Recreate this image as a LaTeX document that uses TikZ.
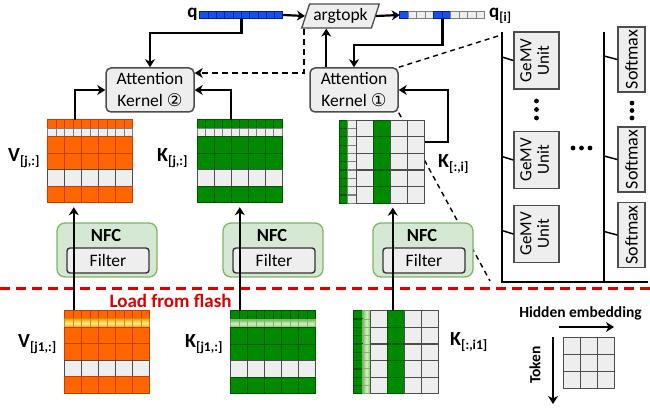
\documentclass[tikz,border=0pt]{standalone}
\usepackage{fontspec}
\setmainfont{Carlito}
\newfontfamily\circfont{DejaVu Sans}
\usepackage{tikz}
\usetikzlibrary{arrows.meta, calc, positioning, shapes.geometric}
\definecolor{cell-grey}{RGB}{238,238,238}
\definecolor{cell-edge}{RGB}{77,77,77}
\definecolor{V-orange}{RGB}{255,102,0}
\definecolor{V-orange-dark}{RGB}{200,60,0}
\definecolor{K-green}{RGB}{0,138,0}
\definecolor{K-green-dark}{RGB}{0,85,0}
\definecolor{q-blue}{RGB}{20,80,235}
\definecolor{q-blue-dark}{RGB}{0,30,160}
\definecolor{NFC-green}{RGB}{213,232,212}
\definecolor{NFC-edge}{RGB}{130,179,102}
\definecolor{flash-red}{RGB}{220,0,0}
\definecolor{gold-dark}{RGB}{235,170,0}
\definecolor{gold-light}{RGB}{255,232,150}
\definecolor{lgreen-dark}{RGB}{110,185,90}
\definecolor{lgreen-light}{RGB}{215,240,200}
\newcommand{\matlabel}[2]{{\fontsize{20}{22}\selectfont\bfseries #1}{\fontsize{13.5}{15}\selectfont\bfseries\raisebox{-4pt}{#2}}}
\tikzset{%
    edge/.style={%
        -{Stealth[length=8pt, width=10pt, inset=2.5pt]},
        line width=2.2pt,
    },
    dashededge/.style={%
        edge,
        dash pattern=on 6pt off 4pt,
    },
    zoomline/.style={%
        line width=1.4pt,
        dash pattern=on 5pt off 4pt,
    },
    flashline/.style={%
        flash-red,
        line width=3pt,
        dash pattern=on 10pt off 6pt,
    },
    kernel/.style={%
        rectangle,
        rounded corners=5pt,
        fill=cell-grey,
        draw=cell-edge, line width=1.5pt,
        minimum width=88pt,
        minimum height=44pt,
        align=center,
        font=\fontsize{17.5}{22}\selectfont,
    },
    argbox/.style={%
        trapezium,
        trapezium left angle=72,
        trapezium right angle=108,
        fill=cell-grey,
        draw=cell-edge, line width=1.3pt,
        minimum height=24pt,
        inner xsep=1pt,
        font=\fontsize{17.5}{20}\selectfont,
    },
    vec/.style={%
        rectangle,
        minimum width=83pt,
        minimum height=7pt,
        inner sep=0pt,
    },
    mat/.style={%
        rectangle,
        minimum width=85pt,
        minimum height=83pt,
        inner sep=0pt,
    },
    qcell/.style={fill=q-blue, draw=q-blue-dark, line width=0.8pt},
    qwcell/.style={fill=cell-grey, draw=gray, line width=0.8pt},
    ocell/.style={fill=V-orange, draw=V-orange-dark, line width=1.2pt},
    gcell/.style={fill=K-green, draw=K-green-dark, line width=1.2pt},
    wcell/.style={fill=cell-grey, draw=cell-edge, line width=1.2pt},
    twcell/.style={fill=cell-grey, draw=gray, line width=1.2pt},
    ycell/.style={%
        top color=gold-dark, bottom color=gold-dark, middle color=gold-light,
        draw=gold-dark!85!black, line width=1pt,
    },
    lgrow/.style={%
        top color=lgreen-dark, bottom color=lgreen-dark, middle color=lgreen-light,
        draw=NFC-edge, line width=1pt,
    },
    lgcol/.style={%
        left color=lgreen-dark, right color=lgreen-dark, middle color=lgreen-light,
        draw=NFC-edge, line width=1pt,
    },
    nfc/.style={%
        rectangle,
        rounded corners=8pt,
        fill=NFC-green,
        draw=NFC-edge, line width=1.3pt,
        minimum width=100pt,
        minimum height=54pt,
    },
    nfctext/.style={%
        font=\fontsize{18.5}{20}\selectfont\bfseries,
        inner sep=0pt,
    },
    filterbox/.style={%
        rectangle,
        rounded corners=3pt,
        fill=cell-grey,
        draw=black!80, line width=1.4pt,
        minimum width=82pt,
        minimum height=25pt,
        font=\fontsize{17.5}{20}\selectfont,
    },
    unitbox/.style={%
        rectangle,
        fill=cell-grey,
        draw=cell-edge, line width=1.5pt,
        inner sep=0pt,
        font=\fontsize{17}{17.5}\selectfont,
    },
    bus/.style={line width=1.8pt},
    tick/.style={line width=1.5pt},
    legendtext/.style={font=\fontsize{15.5}{17}\selectfont\bfseries},
}

\begin{document}
\begin{tikzpicture}[x=1pt, y=-1pt]
  \useasboundingbox (0,0) rectangle (650,411);

  % query and selected query entries
  \node[vec] (qbar) at (241.5,15) {};
  \foreach \c in {0,...,9}
    \draw[qcell] ($(qbar.north west)+(8.3*\c,0)$) rectangle ++(8.3,7);
  \node[font=\fontsize{19}{20}\selectfont\bfseries, anchor=east, inner sep=1pt] (qlab) at ($(qbar.west)+(-1,-1)$) {q};

  \node[argbox] (argtopk) at (340.5,16) {argtopk};

  \node[vec, minimum width=85pt] (qibar) at (442.5,15) {};
  \foreach \s [count=\c from 0] in {qcell,qwcell,qwcell,qwcell,qcell,qcell,qwcell,qwcell,qwcell,qwcell}
    \draw[\s] ($(qibar.north west)+(8.5*\c,0)$) rectangle ++(8.5,7);
  \node[anchor=base west, inner sep=0pt] (qilab) at (489,18)
    {{\fontsize{19}{20}\selectfont\bfseries q}{\fontsize{13}{14}\selectfont\bfseries\raisebox{-4pt}{[i]}}};

  % attention kernels
  \node[kernel] (ak2) at (150,90) {Attention\\Kernel {\circfont ②}};
  \node[kernel] (ak1) at (354,90) {Attention\\Kernel {\circfont ①}};

  % compute array
  \coordinate (bus1top) at (502,32);
  \coordinate (bus1bot) at (502,282);
  \coordinate (bus2top) at (604,32);
  \coordinate (bus2bot) at (604,282);
  \coordinate (panelend) at (648,282);
  \draw[bus] (bus1top) -- (bus1bot) -- (panelend);
  \draw[bus] (bus2top) -- (bus2bot);

  \draw[zoomline] (ak1.north east) -- ($(bus1top)+(-4,4)$);
  \draw[zoomline] (ak1.south east) -- ($(bus1bot)+(-12,-1)$);

  \foreach \n/\y in {1/60.5,2/160,3/234} {
    \node[unitbox, minimum width=45pt, minimum height=57pt] (gemv\n) at (536.5,\y)
      {\rotatebox{90}{\begin{tabular}{@{}c@{}}GeMV\\Unit\end{tabular}}};
    \draw[tick] (gemv\n.west) -- ($(gemv\n.west -| bus1top)+(0,-3.5)$);
  }
  \foreach \n/\y in {1/59.5,2/159.5,3/235} {
    \node[unitbox, minimum width=27pt, minimum height=65pt, font=\fontsize{18}{19}\selectfont] (sm\n) at (631.5,\y)
      {\rotatebox{90}{Softmax}};
    \draw[tick] (sm\n.west) -- ($(sm\n.west -| bus2top)+(0,-3.5)$);
  }
  \foreach \y in {101,109.5,118} \fill (536.5,\y) circle (2.4pt);
  \foreach \y in {103,110.5,118} \fill (632,\y) circle (2.4pt);
  \foreach \x in {573,581.5,590} \fill (\x,148) circle (2.4pt);

  % flash boundary
  \draw[flashline] (0,289) -- (650,289);
  \node[anchor=west, text=flash-red, font=\fontsize{19}{22}\selectfont\bfseries] (flashlab) at (106,301) {Load from flash};

  % blocks in DRAM
  \node[mat] (Vj) at (90.5,161.5) {};
  \begin{scope}[shift={(Vj.north west)}]
    \foreach \c in {0,...,9} {
      \draw[ocell] (8.5*\c,0) rectangle ++(8.5,8.5);
      \draw[twcell] (8.5*\c,8.5) rectangle ++(8.5,8.5);
    }
    \foreach \s [count=\r from 0] in {ocell,ocell,wcell,ocell}
      \foreach \c in {0,...,4}
        \draw[\s] (17*\c,17+16.5*\r) rectangle ++(17,16.5);
  \end{scope}
  \node[anchor=base west, inner sep=0pt] (Vjlab) at (8,162) {\matlabel{V}{[j,:]}};

  \node[mat] (Kj) at (240,161.5) {};
  \begin{scope}[shift={(Kj.north west)}]
    \foreach \c in {0,...,9} {
      \draw[gcell] (8.5*\c,0) rectangle ++(8.5,8.5);
      \draw[twcell] (8.5*\c,8.5) rectangle ++(8.5,8.5);
    }
    \foreach \s [count=\r from 0] in {gcell,gcell,wcell,gcell}
      \foreach \c in {0,...,4}
        \draw[\s] (17*\c,17+16.5*\r) rectangle ++(17,16.5);
  \end{scope}
  \node[anchor=base west, inner sep=0pt] (Kjlab) at (157,162) {\matlabel{K}{[j,:]}};

  \node[mat] (Ki) at (382,162) {};
  \begin{scope}[shift={(Ki.north west)}]
    \foreach \r in {0,...,9} {
      \draw[gcell] (0,8.3*\r) rectangle ++(8.5,8.3);
      \draw[twcell] (8.5,8.3*\r) rectangle ++(8.5,8.3);
    }
    \foreach \s [count=\c from 0] in {wcell,gcell,wcell,wcell}
      \foreach \r in {0,...,4}
        \draw[\s] (17+17*\c,16.6*\r) rectangle ++(17,16.6);
  \end{scope}
  \node[anchor=base west, inner sep=0pt] (Kilab) at (438,168) {\matlabel{K}{[:,i]}};

  % blocks in flash
  \node[mat] (Vj1) at (107.5,352) {};
  \begin{scope}[shift={(Vj1.north west)}]
    \foreach \c in {0,...,9} {
      \draw[ocell] (8.5*\c,0) rectangle ++(8.5,8.5);
      \draw[ycell] (8.5*\c,8.5) rectangle ++(8.5,8.5);
    }
    \foreach \s [count=\r from 0] in {ocell,ocell,wcell,ocell}
      \foreach \c in {0,...,4}
        \draw[\s] (17*\c,17+16.5*\r) rectangle ++(17,16.5);
  \end{scope}
  \node[anchor=base west, inner sep=0pt] (Vj1lab) at (18,347) {\matlabel{V}{[j1,:]}};

  \node[mat] (Kj1) at (273.5,352.5) {};
  \begin{scope}[shift={(Kj1.north west)}]
    \foreach \c in {0,...,9} {
      \draw[gcell] (8.5*\c,0) rectangle ++(8.5,8.5);
      \draw[lgrow] (8.5*\c,8.5) rectangle ++(8.5,8.5);
    }
    \foreach \s [count=\r from 0] in {gcell,gcell,wcell,gcell}
      \foreach \c in {0,...,4}
        \draw[\s] (17*\c,17+16.5*\r) rectangle ++(17,16.5);
  \end{scope}
  \node[anchor=base west, inner sep=0pt] (Kj1lab) at (185,347) {\matlabel{K}{[j1,:]}};

  \node[mat] (Ki1) at (396.5,352.5) {};
  \begin{scope}[shift={(Ki1.north west)}]
    \foreach \r in {0,...,9} {
      \draw[gcell] (0,8.3*\r) rectangle ++(8.5,8.3);
      \draw[lgcol] (8.5,8.3*\r) rectangle ++(8.5,8.3);
    }
    \foreach \s [count=\c from 0] in {wcell,gcell,wcell,wcell}
      \foreach \r in {0,...,4}
        \draw[\s] (17+17*\c,16.6*\r) rectangle ++(17,16.6);
  \end{scope}
  \node[anchor=base west, inner sep=0pt] (Ki1lab) at (450,345) {\matlabel{K}{[:,i1]}};

  % near-flash filters
  \foreach \n/\x in {1/107,2/273,3/423} {
    \node[nfc] (nfc\n) at (\x,250) {};
    \node[nfctext] (nfct\n) at ($(nfc\n.center)+(-1,-15)$) {NFC};
    \node[filterbox] (filt\n) at ($(nfc\n.center)+(1,10.5)$) {Filter};
  }

  % connections
  \draw[edge] (qbar.east) -- (argtopk.west);
  \draw[edge] (argtopk.east) -- (qibar.west);
  \draw[edge] (qbar.south) -- ++(0,14) -| (ak2.north);
  \draw[edge] (qibar.south) -- ++(0,26) -| (ak1.north);
  \draw[edge] ($(ak1.north west)+(17,0)$) coordinate (ak1up) -- (ak1up |- argtopk.south);
  \draw[dashededge] ($(argtopk.bottom left corner)+(3,0)$) |- ($(ak2.east)+(0,-17)$);

  \draw[edge] ($(Vj.north west)+(27,0)$) |- (ak2.west);
  \draw[edge] ($(Kj.north west)+(34,0)$) |- (ak2.east);
  \draw[edge] ($(Ki.north east)+(0,22)$) -- ++(23,0) |- (ak1.east);

  \draw[edge, shorten >=4pt] ($(Vj1.north west)+(9,0)$) coordinate (v1up) -- (v1up |- Vj.south);
  \draw[edge, shorten >=4pt] ($(Kj1.north west)+(9,0)$) coordinate (k1up) -- (k1up |- Kj.south);
  \draw[edge, shorten >=4pt] ($(Ki1.north west)+(39,0)$) coordinate (i1up) -- (i1up |- Ki.south);

  % legend
  \node[legendtext] (hidlab) at (580.5,313) {Hidden embedding};
  \coordinate (hidstart) at (559,327);
  \coordinate (hidend) at (614,327);
  \draw[edge] (hidstart) -- (hidend);
  \coordinate (tokstart) at (553,337);
  \coordinate (tokend) at (553,404);
  \draw[edge] (tokstart) -- (tokend);
  \node[legendtext, rotate=90] (toklab) at (535,365) {Token};
  \node[mat, minimum width=51pt, minimum height=51pt] (legendgrid) at (589.5,363) {};
  \begin{scope}[shift={(legendgrid.north west)}]
    \foreach \r in {0,...,2}
      \foreach \c in {0,...,2}
        \draw[wcell] (17*\c,17*\r) rectangle ++(17,17);
  \end{scope}
\end{tikzpicture}
\end{document}
